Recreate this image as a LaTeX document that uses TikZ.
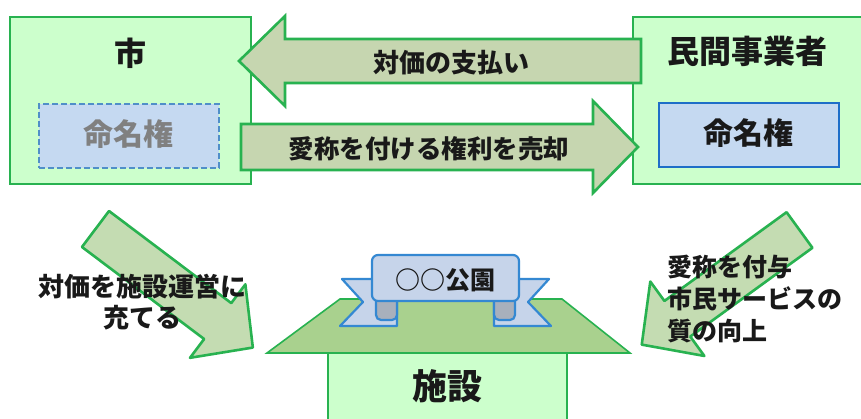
\documentclass[tikz,border=0pt]{standalone}
\usepackage{fontspec}
\setmainfont{Noto Sans CJK JP}
\definecolor{gborder}{RGB}{40,178,80}
\definecolor{boxfill}{RGB}{204,255,204}
\definecolor{arrowfill}{RGB}{198,214,176}
\definecolor{darrowfill}{RGB}{196,220,178}
\definecolor{rooffill}{RGB}{169,209,142}
\definecolor{ribfill}{RGB}{198,212,234}
\definecolor{ribline}{RGB}{52,136,210}
\definecolor{foldgray}{RGB}{168,176,188}
\definecolor{namefill}{RGB}{197,217,241}
\definecolor{namedash}{RGB}{80,143,200}
\definecolor{nameline}{RGB}{30,110,200}
\definecolor{txt}{RGB}{25,25,25}
\begin{document}
\begin{tikzpicture}[x=1pt,y=-1pt,
  box/.style={draw=gborder, fill=boxfill, line width=1.6pt, inner sep=0pt},
  namebox/.style={fill=namefill, line width=1.8pt, inner sep=0pt, minimum width=180pt, minimum height=64pt},
  harrow/.style={draw=gborder, fill=arrowfill, line width=2.6pt, line join=miter},
  darrow/.style={draw=gborder, fill=darrowfill, line width=2.6pt, line join=round},
  title/.style={font=\bfseries\fontsize{32}{38}\selectfont, text=txt, inner sep=0pt},
  lbl/.style={font=\bfseries\fontsize{26}{31.5}\selectfont, text=txt, inner sep=0pt},
  ribbon/.style={draw=ribline, line width=2.2pt, fill=ribfill, line join=round}
]
\useasboundingbox (0,0) rectangle (861,419);
\fill[white] (0,0) rectangle (861,419);

% main boxes
\node[box, minimum width=241pt, minimum height=167pt] (citybox) at (130.5,100.5) {};
\node[box, minimum width=231pt, minimum height=167pt] (firmbox) at (748.5,100.5) {};
\node[title] (city) at (130,53) {市};
\node[title] (firm) at (747,51) {民間事業者};
\node[namebox, draw=namedash, dash pattern=on 6pt off 3pt] (cityname) at (129,136) {};
\node[title, text=gray, font=\bfseries\fontsize{30}{36}\selectfont] (citynametext) at (128,134) {命名権};
\node[namebox, draw=nameline] (firmname) at (749,135) {};
\node[title, font=\bfseries\fontsize{30}{36}\selectfont] (firmnametext) at (748,133) {命名権};

% horizontal block arrows
\draw[harrow] (641,39) -- (285,39) -- (285,16) -- (239,61) -- (285,106) -- (285,83) -- (641,83) -- cycle;
\node[lbl] (pay) at (451,63) {対価の支払い};
\draw[harrow] (241,124) -- (593,124) -- (593,101) -- (638,147) -- (593,193) -- (593,170) -- (241,170) -- cycle;
\node[lbl, font=\bfseries\fontsize{25.5}{31}\selectfont] (sell) at (429,149) {愛称を付ける権利を売却};

% building
\node[box, minimum width=239pt, minimum height=72pt] (building) at (447.5,389) {};
\draw[draw=gborder, fill=rooffill, line width=1.6pt] (267,353) -- (630,353) -- (562,299) -- (340,299) -- cycle;
\node[title, font=\bfseries\fontsize{35}{40}\selectfont] (facility) at (447,386) {施設};

% ribbon
\draw[ribbon] (342,279) -- (397,279) -- (397,326) -- (340,326) -- (363,302) -- cycle;
\draw[ribbon] (549,279) -- (494,279) -- (494,326) -- (551,326) -- (528,302) -- cycle;
\draw[ribbon, fill=foldgray, rounded corners=5pt] (397,300) -- (397,320) -- (376,320) -- (376,300);
\draw[ribbon, fill=foldgray, rounded corners=5pt] (494,300) -- (494,320) -- (515,320) -- (515,300);
\node[ribbon, rounded corners=6pt, minimum width=147pt, minimum height=46pt, inner sep=0pt] (banner) at (445.5,278) {};
\node[lbl, font=\bfseries\fontsize{25}{30}\selectfont] (park) at (445,280) {○○公園};

% diagonal arrows
\begin{scope}[shift={(95.5,229)}, rotate=-37]
\draw[darrow] (0,-22.5) -- (153,-22.5) -- (153,-46) -- (197,0) -- (153,46) -- (153,22.5) -- (0,22.5) -- cycle;
\end{scope}
\begin{scope}[shift={(799.5,230)}, rotate=-144]
\draw[darrow] (0,-22) -- (151,-22) -- (151,-46) -- (195,0) -- (151,46) -- (151,22) -- (0,22) -- cycle;
\end{scope}
\node[lbl, align=center] (use) at (142,302) {対価を施設運営に\\充てる};
\node[lbl, align=left, anchor=west, font=\bfseries\fontsize{25}{32}\selectfont] (give) at (667,299) {愛称を付与\\市民サービスの\\質の向上};
\end{tikzpicture}
\end{document}
